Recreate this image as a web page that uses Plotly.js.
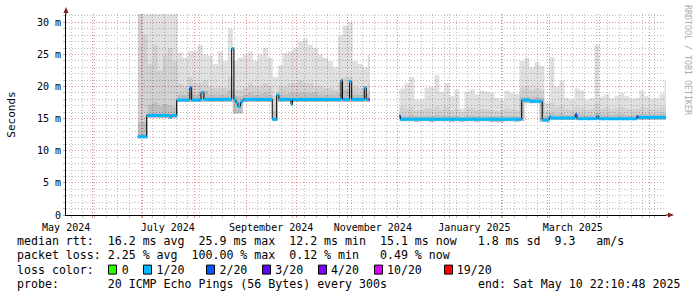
<!DOCTYPE html>
<html><head><meta charset="utf-8">
<script src="https://cdn.plot.ly/plotly-3.0.1.min.js"></script>
<style>html,body{margin:0;padding:0;background:#fff;}#chart{width:697px;height:297px;}</style>
</head><body><div id="chart"></div>
<script>
// ---------- axis data ----------
const xStart = '2024-05-15 22:10:48';
const xEnd = '2025-05-10 22:10:48';
const firstMonth = '2024-06-01';
const firstSunday = '2024-06-02';
const labelDates = ['2024-05-16','2024-07-16','2024-09-16','2024-11-16','2025-01-16','2025-03-16'];
const labelText = ['May 2024','July 2024','September 2024','November 2024','January 2025','March 2025'];
const yMax = 31.3;
const yStep = 5;
const yUnit = ' m';

// ---------- smoke (ping distribution), ms; null = no data ----------
const smokeDates = [
 '2024-06-28','2024-07-01','2024-07-04','2024-07-07','2024-07-10','2024-07-13','2024-07-16','2024-07-19','2024-07-22','2024-07-25',
 '2024-07-28','2024-07-31','2024-08-03','2024-08-06','2024-08-09','2024-08-12','2024-08-15','2024-08-18','2024-08-21','2024-08-24',
 '2024-08-27','2024-08-30','2024-09-02','2024-09-05','2024-09-08','2024-09-11','2024-09-14','2024-09-17','2024-09-20','2024-09-23',
 '2024-09-26','2024-09-29','2024-10-02','2024-10-05','2024-10-08','2024-10-11','2024-10-14','2024-10-17','2024-10-20','2024-10-23',
 '2024-10-26','2024-10-29','2024-11-01','2024-11-04','2024-11-07','2024-11-10','2024-11-13',
 '2024-11-14 08:00',
 '2024-12-02','2024-12-05','2024-12-08','2024-12-11','2024-12-14','2024-12-17','2024-12-20','2024-12-23','2024-12-26','2024-12-29',
 '2025-01-01','2025-01-04','2025-01-07','2025-01-10','2025-01-13','2025-01-16','2025-01-19','2025-01-22','2025-01-25','2025-01-28',
 '2025-01-31','2025-02-03','2025-02-06','2025-02-09','2025-02-12','2025-02-15','2025-02-18','2025-02-21','2025-02-24','2025-02-27',
 '2025-03-02','2025-03-05','2025-03-08','2025-03-11','2025-03-14','2025-03-17','2025-03-20','2025-03-23','2025-03-26','2025-03-29',
 '2025-04-01','2025-04-04','2025-04-07','2025-04-10','2025-04-13','2025-04-16','2025-04-19','2025-04-22','2025-04-25','2025-04-28',
 '2025-05-01','2025-05-04','2025-05-07','2025-05-10'
];
const smokeMin = [
 11.9,11.9,15.1,15.1,15.1,15.1,15.0,15.1,17.6,17.6,
 17.6,17.6,17.6,17.6,17.6,17.6,17.6,17.6,17.6,15.8,
 15.8,17.6,17.6,17.6,17.6,17.6,17.6,14.6,17.6,17.6,
 17.6,17.6,17.6,17.6,17.6,17.6,17.6,17.6,17.6,17.6,
 17.6,17.6,17.6,17.6,17.6,17.6,17.6,
 null,
 14.6,14.6,14.6,14.5,14.6,14.6,14.5,14.6,14.6,14.6,
 14.5,14.6,14.5,14.6,14.6,14.5,14.6,14.6,14.5,14.5,
 14.5,14.6,14.6,14.5,14.6,17.4,17.4,17.4,14.5,14.5,
 14.8,14.8,14.8,14.8,14.8,14.8,14.8,14.8,14.8,14.8,
 14.8,14.8,14.8,14.8,14.8,14.8,14.8,14.8,14.8,14.8,
 14.8,14.8,14.8,14.8
];
const smokeLow = [
 14.5,14.5,17.2,17.5,17.0,17.3,17.0,16.8,18.8,18.7,
 19.0,18.8,19.0,19.3,18.8,18.8,18.8,18.8,19.5,18.6,
 18.5,18.8,19.0,18.8,18.8,19.0,18.8,16.2,18.8,18.8,
 19.0,19.0,19.0,19.0,19.0,19.0,18.8,18.8,18.8,18.8,
 19.0,19.5,19.5,18.8,18.8,18.8,19.2,
 null,
 15.5,15.4,15.6,15.4,15.5,15.5,15.4,15.6,15.5,15.5,
 15.4,15.5,15.3,15.5,15.5,15.4,15.5,15.5,15.4,15.4,
 15.4,15.5,15.5,15.4,18.4,18.4,18.3,18.4,18.3,15.4,
 15.9,15.7,15.8,15.6,15.6,15.9,15.7,15.6,15.6,15.9,
 15.7,15.7,15.6,15.7,15.7,15.6,15.6,15.7,15.8,15.7,
 15.7,15.7,15.8,15.8
];
const smokeMid = [
 31.3,28.0,23.5,26.5,22.5,25.0,26.0,24.0,20.5,20.0,
 21.5,20.5,20.5,21.0,20.0,19.8,20.0,19.8,21.5,19.5,
 19.5,20.0,20.5,20.0,20.0,20.5,20.0,18.5,20.0,20.0,
 20.5,20.5,21.0,20.5,20.5,20.0,20.0,19.8,19.8,19.5,
 20.5,21.5,21.5,20.0,19.8,20.0,20.5,
 null,
 16.8,16.6,16.9,16.3,16.4,16.7,16.6,16.9,16.5,16.8,
 16.3,16.5,16.0,16.6,16.7,16.4,16.6,16.5,16.4,16.2,
 16.3,16.7,16.5,16.4,19.8,20.0,19.6,19.8,19.5,16.2,
 17.5,16.8,17.0,16.5,16.4,16.9,16.7,16.4,16.5,17.5,
 16.6,16.8,16.5,16.7,16.8,16.6,16.5,16.6,16.9,16.7,
 16.5,16.6,16.8,17.2
];
const smokeMax = [
 31.3,31.3,31.3,31.3,31.3,31.3,31.3,31.3,25.3,24.5,
 25.5,25.5,26.5,25.0,24.8,23.5,25.5,24.0,29.0,24.0,
 24.5,25.0,25.5,24.0,25.0,26.0,24.5,21.5,23.3,25.2,
 25.5,26.0,27.0,27.5,26.5,26.0,25.0,24.5,24.0,23.0,
 28.0,29.5,30.0,24.0,23.5,23.0,25.0,
 null,
 19.7,20.5,21.5,18.0,18.0,19.8,20.0,21.8,19.2,20.5,
 18.5,19.5,16.6,19.2,19.6,18.8,19.4,19.2,19.0,18.2,
 18.0,19.4,19.0,18.9,24.0,24.5,23.0,23.8,23.2,17.5,
 24.6,20.0,21.0,18.2,18.0,19.7,19.4,18.0,18.2,26.5,
 18.4,18.8,18.2,18.6,19.0,18.5,18.1,18.3,19.4,18.5,
 18.1,18.2,18.9,21.0
];

// ---------- median rtt (step changes), ms, with packet loss (x/20) ----------
const medianDates = [
 '2024-06-27 22:00','2024-07-03 08:00','2024-07-17 08:00','2024-07-18 00:00','2024-07-21 08:00','2024-07-29 06:00','2024-07-30 08:00',
 '2024-08-04 22:00','2024-08-06 16:00','2024-08-23 08:00','2024-08-24 16:00','2024-08-25 20:00','2024-08-27 02:00','2024-08-28 14:00',
 '2024-08-30 02:00','2024-09-16 16:00','2024-09-19 08:00','2024-09-20 16:00','2024-09-27 22:00','2024-09-28 20:00','2024-10-27 22:00',
 '2024-10-28 20:00','2024-11-02 02:00','2024-11-03 08:00','2024-11-10 22:00','2024-11-12 02:00','2024-11-13 12:00','2024-11-14 08:00',
 '2024-12-01 22:00','2024-12-02 14:00','2025-02-13 08:00','2025-02-18 08:00','2025-02-25 16:00','2025-03-01 22:00','2025-03-02 22:00',
 '2025-03-17 08:00','2025-03-18 12:00','2025-03-30 08:00','2025-03-31 10:00','2025-04-23 08:00','2025-04-24 10:00','2025-05-10 22:10'
];
const medianValues = [
 12.2,15.5,15.2,15.5,17.9,19.8,17.9,
 19.1,18.0,25.9,18.0,17.5,16.9,17.6,
 18.0,14.9,18.7,18.0,17.2,18.0,21.0,
 18.0,20.8,18.0,19.8,18.0,18.0,null,
 15.4,14.9,17.9,17.7,14.8,15.3,15.1,
 15.6,15.0,15.4,15.0,15.3,15.2,15.1
];
const medianLoss = [
 1,1,1,1,1,2,1,
 1,1,1,1,1,1,1,
 1,1,1,1,1,1,1,
 1,1,1,1,1,10,0,
 2,1,1,1,1,1,1,
 2,1,1,1,2,1,1
];

// ---------- legend ----------
const lossKeys = [0,1,2,3,4,10,19];
const lossLabels = ['0','1/20','2/20','3/20','4/20','10/20','19/20'];
const lossColors = ['#26ff00','#00b8ff','#0059ff','#5e00ff','#7e00ff','#dd00ff','#ff0000'];
const rttLine = 'median rtt:  16.2 ms avg  25.9 ms max  12.2 ms min  15.1 ms now   1.8 ms sd  9.3   am/s';
const lossLine = 'packet loss: 2.25 % avg  100.00 % max  0.12 % min   0.49 % now';
const probeLine = 'probe:       20 ICMP Echo Pings (56 Bytes) every 300s';
const endLine = 'end: Sat May 10 22:10:48 2025';

// ---------- build ----------
const MONO = 'DejaVu Sans Mono';
const PL = 66, PW = 600, PB = 215, PH = 201;
const px2x = p => (p - PL) / PW;
const py2y = p => (PB - p) / PH;
const nb = s => s.replace(/ /g, '\u00a0');

const traces = [];
const segs = [];
let cur = null;
for (let i = 0; i < smokeDates.length; i++) {
  if (smokeMax[i] === null) { if (cur) { cur.end = smokeDates[i]; segs.push(cur); cur = null; } continue; }
  if (!cur) cur = {idx: []};
  cur.idx.push(i);
}
if (cur) { cur.end = xEnd; segs.push(cur); }

const layers = [
  {arr: smokeMin, fill: 'none', color: 'rgba(0,0,0,0)'},
  {arr: smokeLow, fill: 'tonexty', color: 'rgba(0,0,0,0.26)'},
  {arr: smokeMid, fill: 'tonexty', color: 'rgba(0,0,0,0.18)'},
  {arr: smokeMax, fill: 'tonexty', color: 'rgba(0,0,0,0.12)'}
];
segs.forEach(seg => {
  const xs = seg.idx.map(i => smokeDates[i]).concat([seg.end]);
  layers.forEach(L => {
    const ys = seg.idx.map(i => L.arr[i]);
    ys.push(ys[ys.length - 1]);
    traces.push({type: 'scatter', mode: 'lines', x: xs, y: ys, line: {shape: 'hv', width: 0},
      fill: L.fill, fillcolor: L.color, hoverinfo: 'skip', showlegend: false});
  });
});

traces.push({type: 'scatter', mode: 'lines', x: medianDates, y: medianValues,
  line: {shape: 'hv', width: 1, color: '#000'}, connectgaps: false, hoverinfo: 'skip', showlegend: false});

const byLoss = {};
for (let i = 0; i < medianDates.length - 1; i++) {
  if (medianValues[i] === null) continue;
  const k = medianLoss[i];
  if (!byLoss[k]) byLoss[k] = {x: [], y: []};
  byLoss[k].x.push(medianDates[i], medianDates[i + 1], null);
  byLoss[k].y.push(medianValues[i], medianValues[i], null);
}
Object.keys(byLoss).forEach(k => {
  const ci = lossKeys.indexOf(Number(k));
  traces.push({type: 'scatter', mode: 'lines', x: byLoss[k].x, y: byLoss[k].y,
    line: {width: 3, color: lossColors[ci]}, connectgaps: false, hoverinfo: 'skip', showlegend: false});
});

traces.push({type: 'scatter', mode: 'lines', x: [labelDates[0]], y: [null], xaxis: 'x2', yaxis: 'y', hoverinfo: 'skip', showlegend: false});

const lossTextIdx = [15,20,29,37,45,53,63];
let row3 = 'loss color:';
lossLabels.forEach((lab, i) => { while (row3.length < lossTextIdx[i]) row3 += ' '; row3 += lab; });

const rowY = [241, 255.4, 269.6, 284];
const annFont = {family: MONO, size: 11.6, color: '#000'};
const annotations = [
  {text: nb(rttLine), x: px2x(15), y: py2y(rowY[0])},
  {text: nb(lossLine), x: px2x(15), y: py2y(rowY[1])},
  {text: nb(row3), x: px2x(15), y: py2y(rowY[2])},
  {text: nb(probeLine), x: px2x(15), y: py2y(rowY[3])}
].map(a => Object.assign(a, {xref: 'paper', yref: 'paper', xanchor: 'left', yanchor: 'middle', showarrow: false, font: annFont}));
annotations.push({text: nb(endLine), x: px2x(682), y: py2y(rowY[3]), xref: 'paper', yref: 'paper', xanchor: 'right', yanchor: 'middle', showarrow: false, font: annFont});
annotations.push({text: nb('RRDTOOL / TOBI OETIKER'), x: px2x(688), y: py2y(60), xref: 'paper', yref: 'paper', xanchor: 'center', yanchor: 'middle', textangle: 90, showarrow: false, font: {family: MONO, size: 8.3, color: '#ababab'}});

const shapes = [
  {type: 'line', xref: 'paper', yref: 'paper', x0: 1, x1: px2x(670), y0: 0, y1: 0, line: {color: '#000', width: 1}},
  {type: 'line', xref: 'paper', yref: 'paper', x0: 0, x1: 0, y0: 1, y1: py2y(11), line: {color: '#000', width: 1}},
  {type: 'path', xref: 'paper', yref: 'paper', xsizemode: 'pixel', ysizemode: 'pixel', xanchor: px2x(668), yanchor: 0,
    path: 'M 0 -2.5 L 6 0 L 0 2.5 Z', fillcolor: '#7f1f1f', line: {width: 0}},
  {type: 'path', xref: 'paper', yref: 'paper', xsizemode: 'pixel', ysizemode: 'pixel', xanchor: 0, yanchor: py2y(13),
    path: 'M -2.5 0 L 0 6 L 2.5 0 Z', fillcolor: '#7f1f1f', line: {width: 0}}
];
lossTextIdx.forEach((ti, i) => {
  const left = 16 + 7 * ti - 12.5;
  shapes.push({type: 'rect', xref: 'paper', yref: 'paper', x0: px2x(left), x1: px2x(left + 8),
    y0: py2y(rowY[2] + 4.5), y1: py2y(rowY[2] - 4.5), fillcolor: lossColors[i], line: {color: '#000', width: 1}});
});

const RED = '#e29090', GRAY = '#bdbdbd';
const layout = {
  width: 697, height: 297,
  margin: {l: PL, r: 697 - PL - PW, t: PB - PH, b: 297 - PB, pad: 0},
  paper_bgcolor: '#fff', plot_bgcolor: '#fff', showlegend: false,
  font: {family: MONO, size: 10, color: '#000'},
  xaxis: {type: 'date', range: [xStart, xEnd], tickmode: 'linear', tick0: firstMonth, dtick: 'M1', showticklabels: false,
    ticks: 'outside', ticklen: 2, tickcolor: RED, showgrid: true, gridcolor: RED, griddash: '1px,2px', gridwidth: 1,
    showline: true, linecolor: '#000', linewidth: 1, zeroline: false, fixedrange: true,
    minor: {tickmode: 'linear', dtick: 7 * 86400000, tick0: firstSunday, showgrid: true, gridcolor: GRAY, griddash: '1px,2px', gridwidth: 1,
      ticks: 'outside', ticklen: 2, tickcolor: GRAY}},
  xaxis2: {type: 'date', overlaying: 'x', anchor: 'y', side: 'bottom', range: [xStart, xEnd], tickmode: 'array',
    tickvals: labelDates, ticktext: labelText, tickangle: 0, showgrid: false, showline: false, zeroline: false, ticks: '',
    ticklabelstandoff: 5, tickfont: {family: MONO, size: 10, color: '#000'}, fixedrange: true},
  yaxis: {range: [0, yMax], tickmode: 'linear', tick0: 0, dtick: yStep, ticksuffix: yUnit, labelalias: {['0' + yUnit]: '0'},
    showgrid: true, gridcolor: RED, griddash: '1px,2px', gridwidth: 1, ticks: 'outside', ticklen: 2, tickcolor: RED,
    showline: true, linecolor: '#000', linewidth: 1, zeroline: false, fixedrange: true,
    tickfont: {family: MONO, size: 10, color: '#000'},
    minor: {tickmode: 'linear', dtick: 1, tick0: 0, showgrid: true, gridcolor: GRAY, griddash: '1px,2px', gridwidth: 1,
      ticks: 'outside', ticklen: 2, tickcolor: GRAY},
    title: {text: 'Seconds', font: {family: MONO, size: 11, color: '#000'}, standoff: 19}},
  annotations: annotations,
  shapes: shapes
};
Plotly.newPlot('chart', traces, layout, {staticPlot: true, displayModeBar: false});
</script>
</body></html>
